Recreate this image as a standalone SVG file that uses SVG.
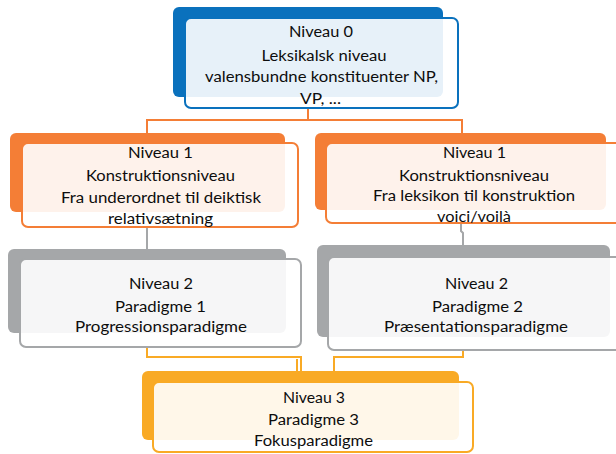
<svg xmlns="http://www.w3.org/2000/svg" width="616" height="454" viewBox="0 0 616 454">
<style>
.t{font-family:Lato,"Open Sans","Liberation Sans",sans-serif;font-size:14.5px;fill:#0d0d0d;text-anchor:middle}
.front{fill:#fff;fill-opacity:0.9;stroke-width:2}
.c{fill:none;stroke-width:2}
.blue{fill:#0A71BD}.orange{fill:#F47E36}.gray{fill:#A5A7A9}.gold{fill:#F9AA25}
</style>
<rect width="616" height="454" fill="#fff"/>
<g id="connectors">
<path class="c" stroke="#F47E36" d="M308,108 V120 H147 V133 M308,120 H462 V133"/>
<path class="c" stroke="#A5A7A9" d="M147,227 V249 M461,223 V231 L463,233 V245"/>
<path class="c" stroke="#F9AA25" d="M147,347 V357 H301 V371 M297,359 V371 M463,350 V357 H334 V371"/>
</g>
<g id="node0">
<rect class="blue" x="173" y="7" width="270" height="90" rx="6"/>
<rect class="front" stroke="#0A71BD" x="185" y="18" width="273" height="90" rx="6"/>
<text class="t" x="321" y="37" textLength="64" lengthAdjust="spacingAndGlyphs">Niveau 0</text>
<text class="t" x="324" y="61" textLength="125" lengthAdjust="spacingAndGlyphs">Leksikalsk niveau</text>
<text class="t" x="321.5" y="82" textLength="233" lengthAdjust="spacingAndGlyphs">valensbundne konstituenter NP,</text>
<text class="t" x="320.5" y="104" textLength="41" lengthAdjust="spacingAndGlyphs">VP, ...</text>
</g>
<g id="node1a">
<rect class="orange" x="10" y="133" width="275" height="79" rx="6"/>
<rect class="front" stroke="#F47E36" x="22" y="143" width="276" height="84" rx="6"/>
<text class="t" x="160.5" y="158" textLength="65" lengthAdjust="spacingAndGlyphs">Niveau 1</text>
<text class="t" x="160.5" y="181" textLength="149" lengthAdjust="spacingAndGlyphs">Konstruktionsniveau</text>
<text class="t" x="161" y="203" textLength="200" lengthAdjust="spacingAndGlyphs">Fra underordnet til deiktisk</text>
<text class="t" x="160.5" y="224" textLength="105" lengthAdjust="spacingAndGlyphs">relativsætning</text>
</g>
<g id="node1b">
<rect class="orange" x="315" y="133" width="291" height="77" rx="6"/>
<rect class="front" stroke="#F47E36" x="326" y="143" width="297" height="80" rx="6"/>
<text class="t" x="474.5" y="158" textLength="63" lengthAdjust="spacingAndGlyphs">Niveau 1</text>
<text class="t" x="474" y="181" textLength="150" lengthAdjust="spacingAndGlyphs">Konstruktionsniveau</text>
<text class="t" x="474" y="201" textLength="202" lengthAdjust="spacingAndGlyphs">Fra leksikon til konstruktion</text>
<text class="t" x="474" y="222" textLength="74" lengthAdjust="spacingAndGlyphs">voici/voilà</text>
</g>
<g id="node2a">
<rect class="gray" x="8" y="249" width="278" height="84" rx="6"/>
<rect class="front" stroke="#A5A7A9" x="20" y="259" width="281" height="88" rx="6"/>
<text class="t" x="161" y="289" textLength="64" lengthAdjust="spacingAndGlyphs">Niveau 2</text>
<text class="t" x="160.5" y="312" textLength="91" lengthAdjust="spacingAndGlyphs">Paradigme 1</text>
<text class="t" x="161" y="332" textLength="172" lengthAdjust="spacingAndGlyphs">Progressionsparadigme</text>
</g>
<g id="node2b">
<rect class="gray" x="317" y="245" width="293" height="92" rx="6"/>
<rect class="front" stroke="#A5A7A9" x="328" y="257" width="296" height="93" rx="6"/>
<text class="t" x="476.5" y="289" textLength="63" lengthAdjust="spacingAndGlyphs">Niveau 2</text>
<text class="t" x="477.5" y="312" textLength="91" lengthAdjust="spacingAndGlyphs">Paradigme 2</text>
<text class="t" x="476" y="332" textLength="184" lengthAdjust="spacingAndGlyphs">Præsentationsparadigme</text>
</g>
<g id="node3">
<rect class="gold" x="142" y="371" width="317" height="69" rx="6"/>
<rect class="front" stroke="#F9AA25" x="153" y="382" width="320" height="70" rx="6"/>
<text class="t" x="314" y="403" textLength="62" lengthAdjust="spacingAndGlyphs">Niveau 3</text>
<text class="t" x="313.5" y="425" textLength="91" lengthAdjust="spacingAndGlyphs">Paradigme 3</text>
<text class="t" x="313.5" y="446" textLength="119" lengthAdjust="spacingAndGlyphs">Fokusparadigme</text>
</g>
</svg>
